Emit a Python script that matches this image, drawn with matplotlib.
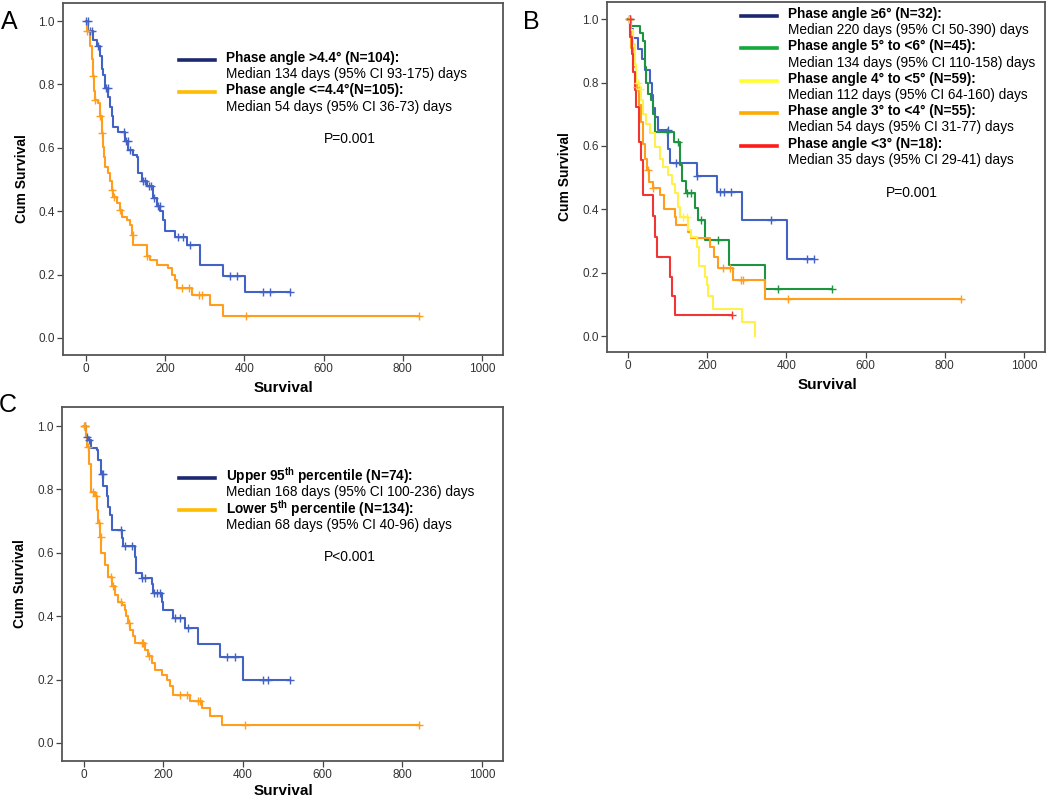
import numpy as np
import matplotlib
matplotlib.use('Agg')
import matplotlib.pyplot as plt
from matplotlib.lines import Line2D

plt.rcParams['font.family'] = ['Liberation Sans', 'DejaVu Sans']
plt.rcParams['mathtext.fontset'] = 'custom'
plt.rcParams['mathtext.rm'] = 'Liberation Sans'
plt.rcParams['mathtext.bf'] = 'Liberation Sans:bold'

## ---- data (days, cumulative survival) ----
# panel A
a_hi_t = [0, 6, 18, 27, 35, 40, 44, 48, 56, 61, 65, 69, 82, 99, 107, 120, 128, 132, 141, 153, 170, 179, 187, 195, 200, 225, 254, 288, 347, 402]
a_hi_s = [1.0, 0.97, 0.94, 0.92, 0.89, 0.85, 0.83, 0.79, 0.76, 0.73, 0.70, 0.667, 0.65, 0.62, 0.594, 0.578, 0.572, 0.52, 0.494, 0.48, 0.44, 0.415, 0.40, 0.372, 0.336, 0.32, 0.294, 0.23, 0.194, 0.145]
a_hi_end = 515
a_hi_cens = [0, 4, 9, 14, 30, 50, 55, 95, 101, 106, 112, 145, 150, 158, 164, 172, 182, 186, 233, 246, 263, 364, 381, 448, 465, 515]

a_lo_t = [0, 2, 10, 14, 17, 20, 23, 31, 35, 40, 42, 45, 48, 56, 61, 65, 69, 78, 86, 90, 103, 111, 115, 120, 153, 162, 179, 208, 216, 225, 229, 267, 313, 347]
a_lo_s = [1.0, 0.97, 0.92, 0.88, 0.826, 0.78, 0.75, 0.74, 0.70, 0.646, 0.604, 0.57, 0.54, 0.52, 0.494, 0.467, 0.446, 0.425, 0.404, 0.383, 0.372, 0.357, 0.325, 0.294, 0.257, 0.246, 0.23, 0.22, 0.20, 0.183, 0.156, 0.135, 0.103, 0.068]
a_lo_end = 842
a_lo_cens = [3, 19, 24, 36, 40, 66, 70, 86, 118, 155, 242, 259, 286, 292, 403, 842]

# panel B
b_6_t = [0, 5, 13, 26, 35, 43, 56, 60, 64, 68, 77, 102, 106, 173, 224, 288, 402]
b_6_s = [1.0, 0.97, 0.94, 0.906, 0.875, 0.84, 0.80, 0.76, 0.72, 0.69, 0.65, 0.59, 0.545, 0.505, 0.455, 0.365, 0.244]
b_6_end = 470
b_6_cens = [3, 100, 122, 175, 232, 243, 261, 362, 451, 470]

b_5_t = [0, 8, 30, 38, 42, 46, 51, 59, 63, 67, 116, 132, 136, 147, 168, 177, 194, 256, 346]
b_5_s = [1.0, 0.978, 0.955, 0.93, 0.85, 0.797, 0.765, 0.744, 0.70, 0.645, 0.613, 0.54, 0.49, 0.45, 0.405, 0.365, 0.304, 0.224, 0.15]
b_5_end = 515
b_5_cens = [4, 98, 126, 150, 160, 185, 227, 379, 515]

b_4_t = [0, 5, 13, 17, 21, 29, 34, 38, 46, 55, 67, 80, 88, 101, 110, 118, 126, 131, 152, 160, 173, 180, 194, 199, 203, 214, 289, 320]
b_4_s = [1.0, 0.965, 0.92, 0.86, 0.80, 0.78, 0.744, 0.70, 0.67, 0.64, 0.597, 0.56, 0.534, 0.507, 0.48, 0.45, 0.407, 0.376, 0.334, 0.313, 0.28, 0.22, 0.186, 0.16, 0.128, 0.085, 0.044, 0.0]
b_4_end = 320
b_4_cens = [2, 25, 30, 140, 150]

b_3_t = [0, 8, 13, 21, 29, 34, 38, 42, 47, 53, 62, 80, 90, 118, 122, 152, 158, 208, 218, 228, 266, 346]
b_3_s = [1.0, 0.91, 0.85, 0.786, 0.73, 0.676, 0.607, 0.56, 0.524, 0.487, 0.466, 0.445, 0.40, 0.376, 0.352, 0.33, 0.31, 0.28, 0.25, 0.215, 0.178, 0.118]
b_3_end = 842
b_3_cens = [2, 22, 50, 64, 240, 257, 286, 291, 404, 842]

b_2_t = [0, 5, 10, 13, 17, 21, 29, 34, 38, 64, 68, 72, 106, 110, 118]
b_2_s = [1.0, 0.944, 0.889, 0.833, 0.778, 0.722, 0.611, 0.556, 0.444, 0.378, 0.313, 0.25, 0.188, 0.128, 0.066]
b_2_end = 262
b_2_cens = [4, 262]

# panel C
c_hi_t = [0, 5, 11, 19, 32, 36, 44, 49, 57, 61, 65, 70, 95, 99, 128, 132, 145, 170, 174, 195, 199, 225, 254, 287, 342, 400]
c_hi_s = [1.0, 0.966, 0.955, 0.93, 0.924, 0.893, 0.85, 0.81, 0.78, 0.746, 0.72, 0.672, 0.646, 0.62, 0.588, 0.536, 0.52, 0.50, 0.473, 0.446, 0.42, 0.394, 0.362, 0.313, 0.271, 0.20]
c_hi_end = 518
c_hi_cens = [2, 7, 12, 45, 48, 92, 104, 122, 145, 154, 176, 184, 190, 229, 242, 262, 359, 380, 451, 463, 518]

c_lo_t = [0, 5, 8, 13, 17, 19, 28, 32, 36, 40, 44, 53, 61, 70, 78, 86, 95, 103, 107, 111, 116, 124, 128, 153, 162, 170, 179, 195, 208, 216, 225, 266, 296, 317, 346]
c_lo_s = [1.0, 0.966, 0.935, 0.88, 0.84, 0.793, 0.78, 0.735, 0.693, 0.65, 0.60, 0.562, 0.525, 0.494, 0.467, 0.446, 0.436, 0.42, 0.40, 0.378, 0.357, 0.336, 0.315, 0.294, 0.273, 0.252, 0.231, 0.215, 0.20, 0.179, 0.152, 0.131, 0.11, 0.084, 0.056]
c_lo_end = 841
c_lo_cens = [1, 4, 10, 24, 30, 38, 42, 68, 74, 92, 114, 145, 149, 163, 241, 258, 287, 292, 405, 841]

W, H = 1050, 798
fig = plt.figure(figsize=(W / 100, H / 100), dpi=100)


def px(x, y):
    return x / W, 1 - y / H


def make_ax(left, top, right, bottom, xlim, ylim):
    x0, y1 = px(left, top)
    x1, y0 = px(right, bottom)
    ax = fig.add_axes([x0, y0, x1 - x0, y1 - y0])
    ax.set_xlim(*xlim)
    ax.set_ylim(*ylim)
    ax.set_xticks([0, 200, 400, 600, 800, 1000])
    ax.set_yticks([0.0, 0.2, 0.4, 0.6, 0.8, 1.0])
    ax.yaxis.set_major_formatter(plt.FormatStrFormatter('%.1f'))
    ax.tick_params(direction='out', length=4, width=0.9, colors='#444444',
                   labelsize=8.5, pad=2, labelcolor='#333333')
    for sp in ax.spines.values():
        sp.set_color('#555555')
        sp.set_linewidth(1.3)
    return ax


def km(ax, t, s, end, cens, color):
    tt = list(t) + [end]
    ss = list(s) + [s[-1]]
    ax.step(tt, ss, where='post', color=color, lw=1.5, zorder=3)
    t_arr = np.array(t)
    s_arr = np.array(s)
    cy = [s_arr[np.searchsorted(t_arr, c, side='right') - 1] for c in cens]
    ax.plot(cens, cy, ls='none', marker='+', ms=6, mew=1.0, color=color, zorder=4)


def legend(entries, xline0, xline1, xtext, ytop, step=16.2):
    y = ytop
    for head, body, col in entries:
        fx0, fy = px(xline0, y + 2)
        fx1, _ = px(xline1, y + 2)
        fig.add_artist(Line2D([fx0, fx1], [fy, fy], color=col, lw=2.6))
        fig.text(*px(xtext, y), head, fontsize=9.8, fontweight='bold', va='center', ha='left')
        fig.text(*px(xtext, y + step), body, fontsize=9.8, va='center', ha='left')
        y += 2 * step


blue = '#4363c4'
orange = '#ff9d1c'
navy = '#1c2870'
gold = '#ffbb00'

## Panel A
axA = make_ax(63, 3, 503, 355, (-58, 1053), (-0.054, 1.057))
km(axA, a_hi_t, a_hi_s, a_hi_end, a_hi_cens, blue)
km(axA, a_lo_t, a_lo_s, a_lo_end, a_lo_cens, orange)
legend([('Phase angle >4.4\u00b0 (N=104):', 'Median 134 days (95% CI 93-175) days', navy),
        ('Phase angle <=4.4\u00b0(N=105):', 'Median 54 days (95% CI 36-73) days', gold)],
       179, 215, 226, 58)
fig.text(*px(350, 139), 'P=0.001', fontsize=10, ha='center', va='center')
fig.text(*px(283, 388), 'Survival', fontsize=11, fontweight='bold', ha='center', va='center')
fig.text(*px(22, 179), 'Cum Survival', fontsize=10, fontweight='bold', ha='center', va='center', rotation=90)
fig.text(*px(9, 22), 'A', fontsize=18, ha='center', va='center')

## Panel B
axB = make_ax(607, 2, 1045, 352, (-53, 1053), (-0.05, 1.054))
km(axB, b_6_t, b_6_s, b_6_end, b_6_cens, '#4363c4')
km(axB, b_5_t, b_5_s, b_5_end, b_5_cens, '#1f9440')
km(axB, b_3_t, b_3_s, b_3_end, b_3_cens, '#ff9d1c')
km(axB, b_4_t, b_4_s, b_4_end, b_4_cens, '#fff04a')
km(axB, b_2_t, b_2_s, b_2_end, b_2_cens, '#f03535')
legend([('Phase angle \u22656\u00b0 (N=32):', 'Median 220 days (95% CI 50-390) days', navy),
        ('Phase angle 5\u00b0 to <6\u00b0 (N=45):', 'Median 134 days (95% CI 110-158) days', '#12a83a'),
        ('Phase angle 4\u00b0 to <5\u00b0 (N=59):', 'Median 112 days (95% CI 64-160) days', '#ffff30'),
        ('Phase angle 3\u00b0 to <4\u00b0 (N=55):', 'Median 54 days (95% CI 31-77) days', '#ffaa00'),
        ('Phase angle <3\u00b0 (N=18):', 'Median 35 days (95% CI 29-41) days', '#ff1a1a')],
       741, 777, 788, 14)
fig.text(*px(912, 193), 'P=0.001', fontsize=10, ha='center', va='center')
fig.text(*px(827, 385), 'Survival', fontsize=11, fontweight='bold', ha='center', va='center')
fig.text(*px(565, 177), 'Cum Survival', fontsize=10, fontweight='bold', ha='center', va='center', rotation=90)
fig.text(*px(531, 22), 'B', fontsize=18, ha='center', va='center')

## Panel C
axC = make_ax(62, 407, 503, 761, (-55, 1053), (-0.057, 1.06))
km(axC, c_hi_t, c_hi_s, c_hi_end, c_hi_cens, blue)
km(axC, c_lo_t, c_lo_s, c_lo_end, c_lo_cens, orange)
legend([(r'Upper 95$^{\mathbf{th}}$ percentile (N=74):', 'Median 168 days (95% CI 100-236) days', navy),
        (r'Lower 5$^{\mathbf{th}}$ percentile (N=134):', 'Median 68 days (95% CI 40-96) days', gold)],
       179, 215, 226, 476)
fig.text(*px(350, 557), 'P<0.001', fontsize=10, ha='center', va='center')
fig.text(*px(283, 791), 'Survival', fontsize=11, fontweight='bold', ha='center', va='center')
fig.text(*px(20, 584), 'Cum Survival', fontsize=10, fontweight='bold', ha='center', va='center', rotation=90)
fig.text(*px(8, 405), 'C', fontsize=18, ha='center', va='center')

fig.savefig('out.png', dpi=100)
